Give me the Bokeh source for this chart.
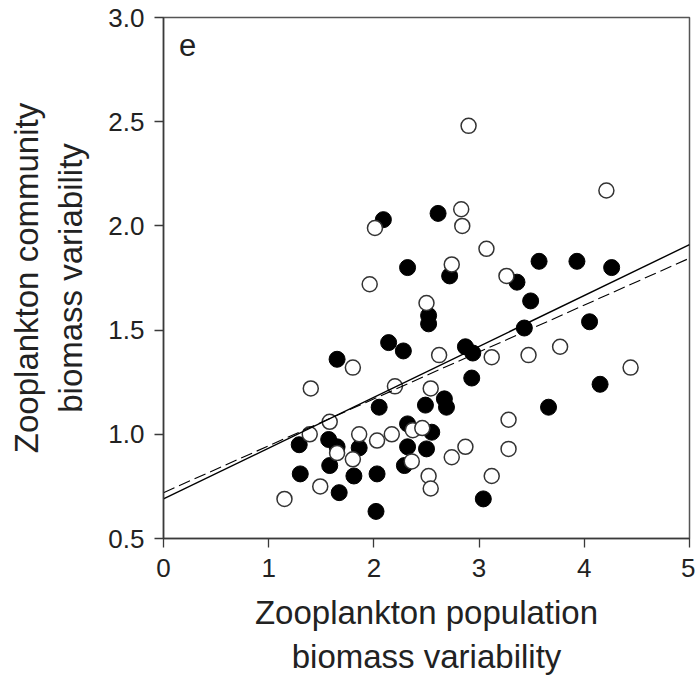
from bokeh.plotting import figure
from bokeh.models import Range1d, FixedTicker, NumeralTickFormatter, Label
from bokeh.embed import file_html
from bokeh.resources import INLINE

# Filled circles
filled_x = [2.09, 2.32, 2.61, 2.72, 3.36, 3.57, 3.93, 4.26, 3.49, 4.05, 4.15, 3.66,
            3.04, 3.43, 2.93, 2.87, 2.94, 2.28, 2.14, 1.65, 2.05, 2.67, 2.69, 2.49,
            2.32, 2.55, 2.32, 2.50, 2.29, 1.29, 1.57, 1.65, 1.86, 1.30, 1.58, 1.81,
            2.03, 1.67, 2.02, 2.52, 2.52]
filled_y = [2.03, 1.80, 2.06, 1.76, 1.73, 1.83, 1.83, 1.80, 1.64, 1.54, 1.24, 1.13,
            0.69, 1.51, 1.27, 1.42, 1.39, 1.40, 1.44, 1.36, 1.13, 1.17, 1.13, 1.14,
            1.05, 1.01, 0.94, 0.93, 0.85, 0.95, 0.975, 0.94, 0.935, 0.81, 0.85, 0.80,
            0.81, 0.72, 0.63, 1.57, 1.53]

# Open circles
open_x = [2.01, 1.96, 2.83, 2.84, 2.90, 4.21, 3.07, 2.74, 3.26, 2.50, 2.62, 3.12,
          3.47, 3.77, 4.44, 2.20, 2.54, 1.80, 1.40, 1.39, 1.58, 1.65, 1.86, 1.80,
          1.49, 1.15, 2.03, 2.17, 2.37, 2.46, 2.36, 2.52, 2.54, 2.74, 2.87, 3.28,
          3.28, 3.12]
open_y = [1.99, 1.72, 2.08, 2.00, 2.48, 2.17, 1.89, 1.815, 1.76, 1.63, 1.38, 1.37,
          1.38, 1.42, 1.32, 1.23, 1.22, 1.32, 1.22, 1.00, 1.06, 0.91, 1.00, 0.88,
          0.75, 0.69, 0.97, 1.00, 1.02, 1.03, 0.87, 0.80, 0.74, 0.89, 0.94, 1.07,
          0.93, 0.80]

# Regression lines (intercept, slope)
solid_fit = (0.69, 0.244)
dashed_fit = (0.72, 0.225)

x_ticks = [0, 1, 2, 3, 4, 5]
y_ticks = [0.5, 1.0, 1.5, 2.0, 2.5, 3.0]

FONT = "Liberation Sans"
AX = "#3a3a3a"

p = figure(width=695, height=677, x_range=Range1d(0, 5), y_range=Range1d(0.5, 3.0),
           output_backend="svg", toolbar_location=None,
           min_border_left=163, min_border_right=6, min_border_top=17,
           min_border_bottom=134)
p.grid.visible = False
p.background_fill_color = "white"
p.border_fill_color = "white"
p.outline_line_color = "#555555"
p.outline_line_width = 1.5

for ax in (p.xaxis[0], p.yaxis[0]):
    ax.axis_line_color = AX
    ax.axis_line_width = 1.5
    ax.major_tick_line_color = AX
    ax.major_tick_line_width = 1.3
    ax.major_tick_in = 0
    ax.major_tick_out = 9
    ax.minor_tick_line_color = None
    ax.major_label_text_font = FONT
    ax.major_label_text_font_size = "26px"
    ax.major_label_text_color = "#222222"
    ax.axis_label_text_font = FONT
    ax.axis_label_text_font_size = "33px"
    ax.axis_label_text_font_style = "normal"
    ax.axis_label_text_color = "#222222"

p.xaxis.ticker = FixedTicker(ticks=x_ticks)
p.yaxis.ticker = FixedTicker(ticks=y_ticks)
p.yaxis.formatter = NumeralTickFormatter(format="0.0")
p.xaxis.major_label_standoff = 11
p.yaxis.major_label_standoff = 10
p.xaxis.axis_label = "Zooplankton population\nbiomass variability"
p.yaxis.axis_label = "Zooplankton community\nbiomass variability"
p.xaxis.axis_label_standoff = 14
p.yaxis.axis_label_standoff = 16

p.scatter(filled_x, filled_y, size=16, marker="circle",
          fill_color="black", line_color="black", line_width=1)
p.scatter(open_x, open_y, size=15, marker="circle",
          fill_color="white", line_color="#333333", line_width=1.5)

xs = [0, 5]
p.line(xs, [solid_fit[0] + solid_fit[1] * v for v in xs],
       line_color="black", line_width=1.4)
p.line(xs, [dashed_fit[0] + dashed_fit[1] * v for v in xs],
       line_color="black", line_width=1.1, line_dash="12 5")

p.add_layout(Label(x=0.23, y=2.87, text="e", text_font=FONT, text_font_size="31px",
                   text_color="#222222", text_align="center", text_baseline="middle"))

open("out.html", "w").write(file_html(p, INLINE))
